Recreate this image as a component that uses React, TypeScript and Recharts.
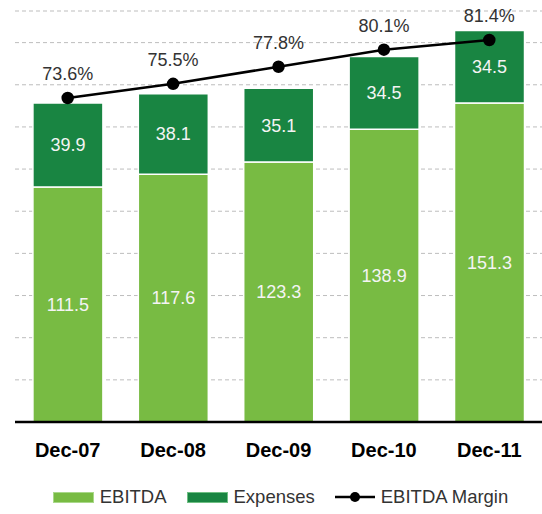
import {
  ComposedChart,
  Bar,
  Line,
  XAxis,
  YAxis,
  CartesianGrid,
  Legend,
  LabelList,
} from "recharts";

const periods = ["Dec-07", "Dec-08", "Dec-09", "Dec-10", "Dec-11"];
const ebitda = [111.5, 117.6, 123.3, 138.9, 151.3];
const expenses = [39.9, 38.1, 35.1, 34.5, 34.5];
const margin = [73.6, 75.5, 77.8, 80.1, 81.4];
const gridTicks = [0, 20, 40, 60, 80, 100, 120, 140, 160, 180];

const LIGHT = "#78bb43";
const DARK = "#198542";
const FONT = "'Liberation Sans', Arial, Helvetica, sans-serif";

const data = periods.map((p, i) => ({
  period: p,
  ebitda: ebitda[i],
  expenses: expenses[i],
  margin: margin[i],
}));

function LegendContent() {
  const text = { fontSize: 18.5, color: "#333", marginLeft: 6 };
  return (
    <div
      style={{
        display: "flex",
        alignItems: "center",
        justifyContent: "center",
        fontFamily: FONT,
        height: 36,
        paddingTop: 14,
        paddingLeft: 4,
        boxSizing: "border-box",
      }}
    >
      <span style={{ width: 39, height: 9, background: LIGHT, border: "1px solid #a9d88a", display: "inline-block" }} />
      <span style={text}>EBITDA</span>
      <span style={{ width: 39, height: 9, background: DARK, border: "1px solid #6fbf83", display: "inline-block", marginLeft: 20 }} />
      <span style={text}>Expenses</span>
      <svg width={40} height={12} style={{ marginLeft: 20 }}>
        <line x1={0} y1={6} x2={40} y2={6} stroke="#000" strokeWidth={2.5} />
        <circle cx={20} cy={6} r={5} fill="#000" />
      </svg>
      <span style={text}>EBITDA Margin</span>
    </div>
  );
}

export default function App() {
  return (
    <div style={{ position: "absolute", left: 0, top: 0, width: 542, height: 514, background: "#fff", overflow: "hidden" }}>
      <ComposedChart
        width={542}
        height={514}
        data={data}
        margin={{ top: 11, right: 0, bottom: 6, left: 15 }}
        barCategoryGap="17%"
      >
        <CartesianGrid vertical={false} stroke="#bdbdbd" strokeDasharray="4 3" yAxisId="left" />
        <XAxis
          dataKey="period"
          height={50}
          tickLine={false}
          axisLine={{ stroke: "#000", strokeWidth: 2.5 }}
          tick={{ fill: "#000", fontSize: 20, fontWeight: 700, fontFamily: FONT }}
          tickMargin={15}
        />
        <YAxis
          yAxisId="left"
          width={0}
          domain={[0, 195]}
          ticks={gridTicks}
          tick={{ fill: "transparent", fontSize: 1 }}
          tickLine={false}
          axisLine={{ stroke: "#000", strokeWidth: 2.5 }}
        />
        <YAxis yAxisId="right" orientation="right" width={0} hide domain={[30, 85.3]} />
        <Legend verticalAlign="bottom" height={36} content={<LegendContent />} />
        <Bar yAxisId="left" dataKey="ebitda" name="EBITDA" stackId="a" fill={LIGHT} stroke="#fff" strokeWidth={1.5} isAnimationActive={false}>
          <LabelList dataKey="ebitda" position="center" fill="#f4f4f4" fontSize={18} fontFamily={FONT} />
        </Bar>
        <Bar yAxisId="left" dataKey="expenses" name="Expenses" stackId="a" fill={DARK} stroke="#fff" strokeWidth={1.5} isAnimationActive={false}>
          <LabelList dataKey="expenses" position="center" fill="#f4f4f4" fontSize={18} fontFamily={FONT} />
        </Bar>
        <Line
          yAxisId="right"
          dataKey="margin"
          name="EBITDA Margin"
          stroke="#000"
          strokeWidth={2.5}
          dot={{ r: 5, fill: "#000", stroke: "#000" }}
          isAnimationActive={false}
        >
          <LabelList
            dataKey="margin"
            position="top"
            offset={18}
            formatter={(v: number) => `${v.toFixed(1)}%`}
            fill="#333"
            fontSize={18}
            fontFamily={FONT}
          />
        </Line>
      </ComposedChart>
    </div>
  );
}
